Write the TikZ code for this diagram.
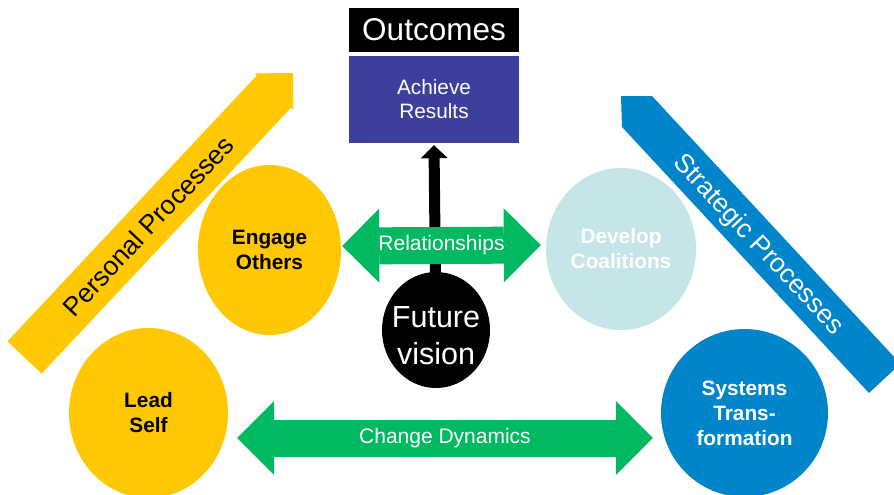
\documentclass[tikz,border=0pt]{standalone}
\usepackage{fontspec}
\setmainfont{Liberation Sans}
\usetikzlibrary{arrows.meta,shapes.geometric,backgrounds}
\definecolor{gold}{HTML}{FFC800}
\definecolor{ocean}{HTML}{0085CA}
\definecolor{leaf}{HTML}{00B960}
\definecolor{mist}{HTML}{C5E5E9}
\definecolor{indigo}{HTML}{3C3F9B}
\tikzset{
  bubble/.style={ellipse,inner sep=0pt,align=center,font=\fontsize{20.8}{25}\selectfont\bfseries},
  fatarrow/.style={leaf,line width=37pt,{Triangle[length=37pt 0 0,width=74pt 0 0,line width=0pt 0 0]}-{Triangle[length=37pt 0 0,width=74pt 0 0,line width=0pt 0 0]}},
  visionarrow/.style={black,line width=11pt,-{Triangle[length=13pt 0 0,width=27pt 0 0,line width=0pt 0 0]}},
  arrowtext/.style={text=white,font=\fontsize{21}{25}\selectfont},
  slanttext/.style={font=\fontsize{26.5}{30}\selectfont}
}

\begin{document}
\begin{tikzpicture}[x=1pt,y=-1pt]
    \clip (0,0) rectangle (894,495);
    \fill[gold] (7.4,341.4) -- (256.9,75.4) -- (254.7,73.4) -- (293,73) -- (293.3,109.6)
      -- (291.1,107.6) -- (41.6,373.6) -- cycle;
    \node[slanttext,rotate=46.8] (personal) at (148,226) {Personal Processes};
    \fill[ocean] (621,96) -- (652,96) -- (900.4,363.7) -- (869,393) -- (622,127) -- cycle;
    \node[slanttext,text=white,rotate=-47] (strategic) at (758,245) {Strategic Processes};

    \node[fill=black,text=white,minimum width=170pt,minimum height=44pt,inner sep=0pt,
      font=\fontsize{31.5}{32}\selectfont] (outcomes) at (434,30) {\raisebox{-3pt}{Outcomes}};
    \node[fill=indigo,text=white,minimum width=170pt,minimum height=87pt,inner sep=0pt,
      align=center,font=\fontsize{20.8}{24}\selectfont] (achieve) at (434,99.5) {Achieve\\Results};

    \node[bubble,fill=gold,minimum width=159pt,minimum height=170pt] (lead) at (148.5,413) {Lead\\Self};
    \node[bubble,fill=gold,minimum width=143pt,minimum height=170pt] (engage) at (269.5,250) {Engage\\Others};
    \node[bubble,fill=mist,text=white,minimum width=150pt,minimum height=162pt] (develop) at (621,249) {Develop\\Coalitions};
    \node[bubble,fill=ocean,text=white,minimum width=167pt,minimum height=168pt] (systems) at (744.5,413) {Systems\\Trans-\\formation};
    \node[ellipse,fill=black,minimum width=108pt,minimum height=116pt] (future) at (436,330) {};
    \node[text=white,align=center,font=\fontsize{30.5}{37}\selectfont] (futuretext) at ([yshift=-5.5pt]future.center) {Future\\vision};

    \begin{scope}[on background layer]
      \draw[visionarrow] (future.center) -- ([yshift=-2pt]achieve.south);
    \end{scope}
    \draw[fatarrow] ([xshift=1pt,yshift=4pt]engage.east) -- ([xshift=-5pt,yshift=4pt]develop.west)
      node[midway,arrowtext] (relationships) {Relationships};
    \draw[fatarrow] ([xshift=9pt,yshift=-25pt]lead.east) -- ([xshift=-8pt,yshift=-25pt]systems.west)
      node[midway,arrowtext] (dynamics) {Change Dynamics};
\end{tikzpicture}
\end{document}
